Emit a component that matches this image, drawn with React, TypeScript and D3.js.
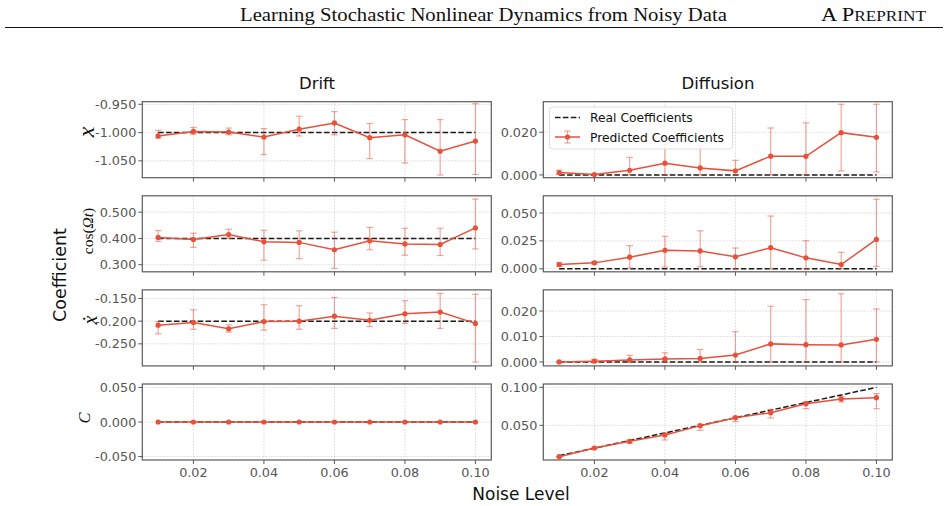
import React from 'react';
import * as d3 from 'd3';

// noise levels on the shared x axis
const noiseLevels = [0.01, 0.02, 0.03, 0.04, 0.05, 0.06, 0.07, 0.08, 0.09, 0.1];
const noiseTicks = [0.02, 0.04, 0.06, 0.08, 0.1];

// drift: x term
const driftXMean = [-1.006, -0.998, -0.999, -1.008, -0.994, -0.983, -1.009, -1.004, -1.033, -1.015];
const driftXHigh = [-0.996, -0.991, -0.992, -0.993, -0.971, -0.963, -0.984, -0.977, -0.977, -0.949];
const driftXLow = [-1.01, -1.003, -1.004, -1.039, -1.006, -1.004, -1.046, -1.054, -1.075, -1.074];
const driftXTicks = [-0.95, -1.0, -1.05];

// drift: cos(Ωt) term
const driftCosMean = [0.404, 0.396, 0.415, 0.387, 0.385, 0.357, 0.391, 0.379, 0.377, 0.44];
const driftCosHigh = [0.43, 0.42, 0.435, 0.431, 0.429, 0.424, 0.442, 0.439, 0.439, 0.55];
const driftCosLow = [0.389, 0.366, 0.401, 0.317, 0.323, 0.286, 0.357, 0.336, 0.335, 0.36];
const driftCosTicks = [0.5, 0.4, 0.3];

// drift: x-dot term
const driftXdotMean = [-0.209, -0.203, -0.217, -0.201, -0.2, -0.189, -0.198, -0.184, -0.18, -0.205];
const driftXdotHigh = [-0.201, -0.175, -0.208, -0.164, -0.166, -0.148, -0.182, -0.155, -0.139, -0.141];
const driftXdotLow = [-0.228, -0.218, -0.224, -0.22, -0.218, -0.216, -0.212, -0.205, -0.216, -0.29];
const driftXdotTicks = [-0.15, -0.2, -0.25];

// drift: constant term
const driftCMean = [0, 0, 0, 0, 0, 0, 0, 0, 0, 0];
const driftCTicks = [0.05, 0, -0.05];

// diffusion: x term
const diffXMean = [0.0011, 0.0002, 0.0022, 0.0055, 0.0033, 0.0019, 0.0088, 0.0087, 0.0198, 0.0176];
const diffXHigh = [0.0022, 0.0003, 0.0082, 0.0142, 0.0135, 0.0068, 0.022, 0.0244, 0.0331, 0.0331];
const diffXLow = [0.0002, 0.0001, 0, 0, 0, 0, 0, 0, 0.0019, 0.0014];
const diffXTicks = [0.02, 0];

// diffusion: cos(Ωt) term
const diffCosMean = [0.0038, 0.0053, 0.0104, 0.0166, 0.016, 0.0107, 0.0189, 0.0098, 0.0038, 0.0263];
const diffCosHigh = [0.0056, 0.0065, 0.0207, 0.029, 0.034, 0.0186, 0.0473, 0.0251, 0.0148, 0.0624];
const diffCosLow = [0.0021, 0.0042, 0.0006, 0.0015, 0.0018, 0, 0, 0, 0, 0.0021];
const diffCosTicks = [0.05, 0.025, 0];

// diffusion: x-dot term
const diffXdotMean = [0, 0.0003, 0.0008, 0.0012, 0.0014, 0.0027, 0.0071, 0.0068, 0.0067, 0.0089];
const diffXdotHigh = [0.0001, 0.001, 0.0026, 0.0036, 0.0049, 0.0119, 0.0219, 0.0245, 0.0268, 0.0208];
const diffXdotLow = [0, 0, 0, 0, 0, 0, 0, 0, 0, 0];
const diffXdotTicks = [0.02, 0.01, 0];

// diffusion: constant term
const diffCMean = [0.0088, 0.0202, 0.029, 0.0373, 0.0496, 0.0601, 0.0667, 0.0785, 0.0847, 0.0864];
const diffCHigh = [0.009, 0.0205, 0.0307, 0.04, 0.0513, 0.0618, 0.071, 0.0811, 0.0877, 0.0917];
const diffCLow = [0.0086, 0.0199, 0.0263, 0.0307, 0.0434, 0.0548, 0.0596, 0.0719, 0.0807, 0.0719];
const diffCTicks = [0.1, 0.05];

// true coefficients
const realDrift = [-1, 0.4, -0.2, 0];
const realDiffC = [0.01, 0.02, 0.03, 0.04, 0.05, 0.06, 0.07, 0.08, 0.09, 0.1];

const RED = '#e8503a';
const FRAME = '#5a5a5a';
const TICK_TEXT = '#555';
const SANS = '"DejaVu Sans", sans-serif';
const SERIF = '"Liberation Serif", "DejaVu Serif", serif';

const W = 948;
const H = 506;
const colLeft = [142.3, 543.3];
const colWidth = 349;
const rowTop = [101.7, 195.8, 289.9, 384];
const rowHeight = 76;

const fmt = (digits: number) => (v: number) => v.toFixed(digits).replace('−', '-');

type PanelProps = {
  col: number;
  row: number;
  domain: [number, number];
  ticks: number[];
  digits: number;
  mean: number[];
  low?: number[];
  high?: number[];
  real: number[];
  showX: boolean;
};

const Panel = ({ col, row, domain, ticks, digits, mean, low, high, real, showX }: PanelProps) => {
  const x0 = colLeft[col];
  const y0 = rowTop[row];
  const x = d3.scaleLinear().domain([0.0055, 0.1045]).range([x0, x0 + colWidth]);
  const y = d3.scaleLinear().domain(domain).range([y0 + rowHeight, y0]);
  const line = d3
    .line<number>()
    .x((_, i) => x(noiseLevels[i]))
    .y((d) => y(d));
  const f = fmt(digits);

  return (
    <g>
      {/* grid */}
      {noiseTicks.map((t) => (
        <line key={'gx' + t} x1={x(t)} x2={x(t)} y1={y0} y2={y0 + rowHeight}
          stroke="#c8c8c8" strokeWidth={0.7} strokeDasharray="1.5,1.5" />
      ))}
      {ticks.map((t) => (
        <line key={'gy' + t} x1={x0} x2={x0 + colWidth} y1={y(t)} y2={y(t)}
          stroke="#c8c8c8" strokeWidth={0.7} strokeDasharray="1.5,1.5" />
      ))}
      {/* y ticks */}
      {ticks.map((t) => (
        <g key={'ty' + t}>
          <line x1={x0 - 4} x2={x0} y1={y(t)} y2={y(t)} stroke={FRAME} strokeWidth={1} />
          <text x={x0 - 6} y={y(t)} dy="0.36em" textAnchor="end" fontFamily={SANS}
            fontSize={12.8} fill={TICK_TEXT}>{f(t)}</text>
        </g>
      ))}
      {/* x ticks */}
      {noiseTicks.map((t) => (
        <g key={'tx' + t}>
          <line x1={x(t)} x2={x(t)} y1={y0 + rowHeight} y2={y0 + rowHeight + 4} stroke={FRAME} strokeWidth={1} />
          {showX && (
            <text x={x(t)} y={y0 + rowHeight + 16.5} textAnchor="middle" fontFamily={SANS}
              fontSize={12.8} fill={TICK_TEXT}>{t.toFixed(2)}</text>
          )}
        </g>
      ))}
      {/* real coefficients */}
      <path d={line(real) ?? ''} fill="none" stroke="#1a1a1a" strokeWidth={1.5} strokeDasharray="5.5,2.4" />
      {/* error bars */}
      {low && high && noiseLevels.map((n, i) => (
        <g key={'e' + i} stroke={RED} strokeOpacity={0.5} strokeWidth={1.2}>
          <line x1={x(n)} x2={x(n)} y1={y(low[i])} y2={y(high[i])} />
          <line x1={x(n) - 3.3} x2={x(n) + 3.3} y1={y(low[i])} y2={y(low[i])} />
          <line x1={x(n) - 3.3} x2={x(n) + 3.3} y1={y(high[i])} y2={y(high[i])} />
        </g>
      ))}
      {/* predicted coefficients */}
      <path d={line(mean) ?? ''} fill="none" stroke={RED} strokeWidth={1.5} />
      {mean.map((v, i) => (
        <circle key={'m' + i} cx={x(noiseLevels[i])} cy={y(v)} r={2.6} fill={RED} />
      ))}
      <rect x={x0} y={y0} width={colWidth} height={rowHeight} fill="none" stroke={FRAME} strokeWidth={1.2} />
    </g>
  );
};

const fill = (v: number) => noiseLevels.map(() => v);

const MathLabel = ({ cx, cy, size, children }: { cx: number; cy: number; size: number; children: React.ReactNode }) => (
  <text transform={`translate(${cx},${cy}) rotate(-90)`} textAnchor="middle" dy="0.32em"
    fontFamily={SERIF} fontSize={size} fill="#111">{children}</text>
);

export default function App() {
  return (
    <svg width={W} height={H} style={{ position: 'absolute', left: 0, top: 0, background: '#fff' }}>
      {/* page header */}
      <text x={240} y={21} fontFamily={SERIF} fontSize={19} textLength={487} lengthAdjust="spacingAndGlyphs" fill="#111">
        Learning Stochastic Nonlinear Dynamics from Noisy Data
      </text>
      <text x={821} y={21} fontFamily={SERIF} fontSize={19} fill="#111" textLength={105} lengthAdjust="spacingAndGlyphs">
        A P<tspan fontSize={14.5}>REPRINT</tspan>
      </text>
      <line x1={5} x2={943} y1={27.5} y2={27.5} stroke="#111" strokeWidth={1} />

      {/* column titles */}
      <text x={317} y={89} textAnchor="middle" fontFamily={SANS} fontSize={16.5} fill="#111">Drift</text>
      <text x={718} y={89} textAnchor="middle" fontFamily={SANS} fontSize={16.5} fill="#111">Diffusion</text>

      {/* drift column */}
      <Panel col={0} row={0} domain={[-1.0798, -0.9454]} ticks={driftXTicks} digits={3}
        mean={driftXMean} low={driftXLow} high={driftXHigh} real={fill(realDrift[0])} showX={false} />
      <Panel col={0} row={1} domain={[0.273, 0.5623]} ticks={driftCosTicks} digits={3}
        mean={driftCosMean} low={driftCosLow} high={driftCosHigh} real={fill(realDrift[1])} showX={false} />
      <Panel col={0} row={2} domain={[-0.2986, -0.1312]} ticks={driftXdotTicks} digits={3}
        mean={driftXdotMean} low={driftXdotLow} high={driftXdotHigh} real={fill(realDrift[2])} showX={false} />
      <Panel col={0} row={3} domain={[-0.055, 0.055]} ticks={driftCTicks} digits={3}
        mean={driftCMean} real={fill(realDrift[3])} showX={true} />

      {/* diffusion column */}
      <Panel col={1} row={0} domain={[-0.0013, 0.0343]} ticks={diffXTicks} digits={3}
        mean={diffXMean} low={diffXLow} high={diffXHigh} real={fill(0)} showX={false} />
      <Panel col={1} row={1} domain={[-0.0027, 0.0654]} ticks={diffCosTicks} digits={3}
        mean={diffCosMean} low={diffCosLow} high={diffCosHigh} real={fill(0)} showX={false} />
      <Panel col={1} row={2} domain={[-0.00155, 0.0283]} ticks={diffXdotTicks} digits={3}
        mean={diffXdotMean} low={diffXdotLow} high={diffXdotHigh} real={fill(0)} showX={false} />
      <Panel col={1} row={3} domain={[0.0044, 0.1044]} ticks={diffCTicks} digits={3}
        mean={diffCMean} low={diffCLow} high={diffCHigh} real={realDiffC} showX={true} />

      {/* legend */}
      <g>
        <rect x={549.5} y={107} width={183} height={42} rx={3} fill="#fff" fillOpacity={0.85} stroke="#ddd" strokeWidth={1} />
        <line x1={555} x2={580} y1={117.5} y2={117.5} stroke="#1a1a1a" strokeWidth={1.5} strokeDasharray="5.5,2.4" />
        <text x={590} y={122} fontFamily={SANS} fontSize={12.3} fill="#111">Real Coefficients</text>
        <line x1={555} x2={580} y1={137} y2={137} stroke={RED} strokeWidth={1.5} />
        <g stroke={RED} strokeOpacity={0.5} strokeWidth={1.2}>
          <line x1={567.5} x2={567.5} y1={131} y2={143} />
          <line x1={564.2} x2={570.8} y1={131} y2={131} />
          <line x1={564.2} x2={570.8} y1={143} y2={143} />
        </g>
        <circle cx={567.5} cy={137} r={2.6} fill={RED} />
        <text x={590} y={141.5} fontFamily={SANS} fontSize={12.3} fill="#111">Predicted Coefficients</text>
      </g>

      {/* row labels */}
      <MathLabel cx={86} cy={132} size={24}><tspan fontStyle="italic">x</tspan></MathLabel>
      <MathLabel cx={88} cy={231} size={15.5}>cos(<tspan fontStyle="italic">Ωt</tspan>)</MathLabel>
      <MathLabel cx={91} cy={320} size={20}><tspan fontStyle="italic">ẋ</tspan></MathLabel>
      <MathLabel cx={85} cy={418} size={16.5}><tspan fontStyle="italic">C</tspan></MathLabel>

      {/* axis labels */}
      <text transform="translate(66,275) rotate(-90)" textAnchor="middle" fontFamily={SANS} fontSize={17.5} fill="#111">Coefficient</text>
      <text x={521} y={500} textAnchor="middle" fontFamily={SANS} fontSize={17} fill="#111">Noise Level</text>
    </svg>
  );
}
